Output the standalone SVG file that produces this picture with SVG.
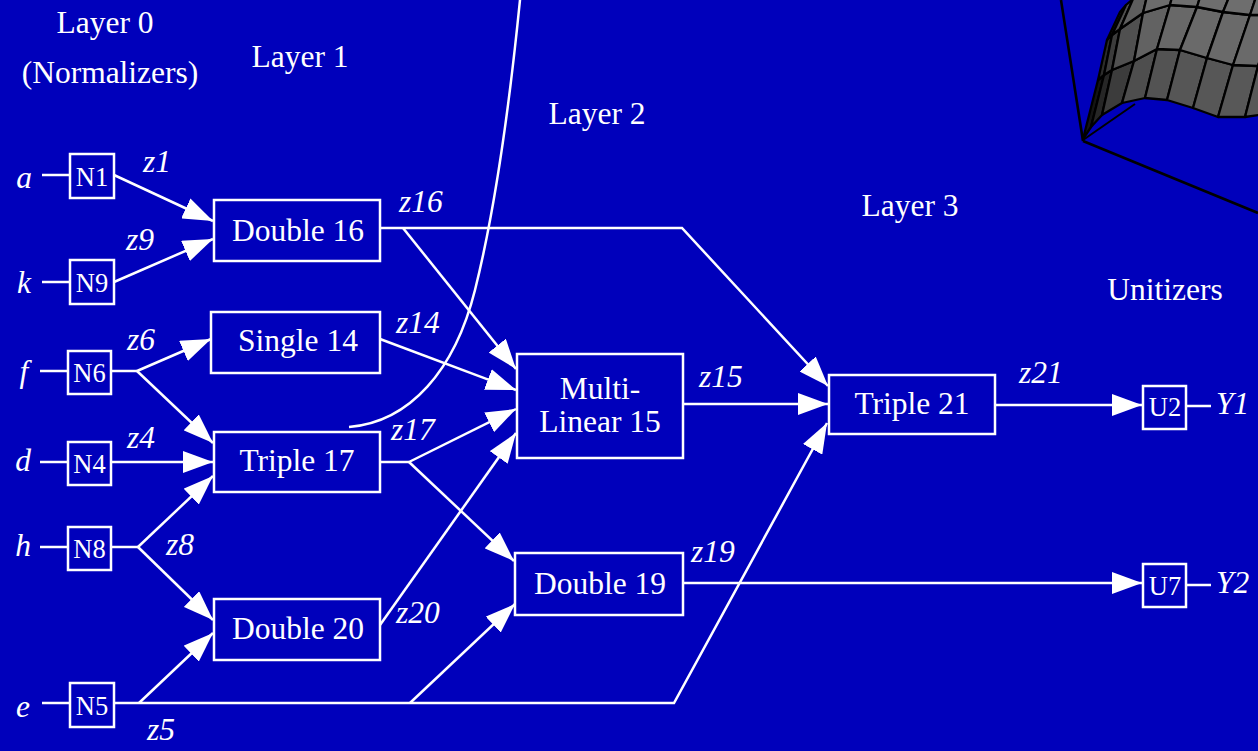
<svg xmlns="http://www.w3.org/2000/svg" width="1258" height="751" viewBox="0 0 1258 751">
<defs>
<marker id="ah" markerUnits="userSpaceOnUse" markerWidth="30" markerHeight="22" refX="30" refY="11" orient="auto" viewBox="0 0 30 22">
<path d="M0,0 L30,11 L0,22 z" fill="#fff"/>
</marker>
<style>
.t{font-family:"Liberation Serif","Times New Roman",serif;fill:#fff;font-size:31.5px}
.c{text-anchor:middle}
.i{font-style:italic;font-size:31.5px}
.n{font-size:26.5px}
.box{fill:#0000BB;stroke:#fff;stroke-width:2.5}
.ln{fill:none;stroke:#fff;stroke-width:2.5}
.ar{marker-end:url(#ah)}
.sf{stroke:#000;stroke-width:2.3;stroke-linejoin:round}
</style>
</defs>
<rect width="1258" height="751" fill="#0000BB"/>

<g id="surface">
<line x1="1061" y1="0" x2="1083" y2="141" stroke="#000" stroke-width="2.6"/>
<line x1="1083" y1="141" x2="1258" y2="213" stroke="#000" stroke-width="2.6"/>
<line x1="1083" y1="140" x2="1135" y2="104" stroke="#000" stroke-width="2"/>
<g class="sf">
<polygon points="1083,139 1091,127 1104,75 1098,80" fill="#141414"/>
<polygon points="1091,127 1102,115 1112,70 1104,75" fill="#262626"/>
<polygon points="1102,115 1122,103 1134,61 1112,70" fill="#3c3c3c"/>
<polygon points="1122,103 1145,98 1157,49 1134,61" fill="#4e4e4e"/>
<polygon points="1145,98 1167,100 1180,50 1157,49" fill="#535353"/>
<polygon points="1167,100 1193,108 1207,58 1180,50" fill="#565656"/>
<polygon points="1193,108 1218,117 1233,65 1207,58" fill="#575757"/>
<polygon points="1218,117 1245,117 1258,66 1233,65" fill="#585858"/>
<polygon points="1245,117 1272,113 1285,63 1258,66" fill="#585858"/>
<polygon points="1098,80 1104,75 1112,35 1107,40" fill="#2c2c2c"/>
<polygon points="1104,75 1112,70 1120,29 1112,35" fill="#3c3c3c"/>
<polygon points="1112,70 1134,61 1143,13 1120,29" fill="#505050"/>
<polygon points="1134,61 1157,49 1170,5 1143,13" fill="#626262"/>
<polygon points="1157,49 1180,50 1197,7 1170,5" fill="#686868"/>
<polygon points="1180,50 1207,58 1223,12 1197,7" fill="#6a6a6a"/>
<polygon points="1207,58 1233,65 1250,15 1223,12" fill="#6a6a6a"/>
<polygon points="1233,65 1258,66 1275,15 1250,15" fill="#6a6a6a"/>
<polygon points="1258,66 1285,63 1300,13 1275,15" fill="#6a6a6a"/>
<polygon points="1107,40 1112,35 1126,5 1120,12" fill="#404040"/>
<polygon points="1112,35 1120,29 1133,-1 1126,5" fill="#505050"/>
<polygon points="1120,29 1143,13 1152,-25 1133,-1" fill="#5e5e5e"/>
<polygon points="1143,13 1170,5 1180,-35 1152,-25" fill="#6c6c6c"/>
<polygon points="1170,5 1197,7 1210,-35 1180,-35" fill="#6e6e6e"/>
<polygon points="1197,7 1223,12 1240,-30 1210,-35" fill="#6e6e6e"/>
<polygon points="1223,12 1250,15 1265,-30 1240,-30" fill="#6e6e6e"/>
<polygon points="1250,15 1275,15 1290,-30 1265,-30" fill="#6e6e6e"/>
</g>
</g>

<path id="curve" class="ln" d="M349,427 C410,422 455,370 475,290 C495,210 510,100 520,0"/>

<g id="labels" class="t c">
<text x="105" y="33">Layer 0</text>
<text x="110" y="83">(Normalizers)</text>
<text x="300" y="67">Layer 1</text>
<text x="597" y="124">Layer 2</text>
<text x="910" y="216">Layer 3</text>
<text x="1165" y="300">Unitizers</text>
</g>

<g id="connectors">
<path class="ln" d="M42,175 H70 M42,282 H70 M40,371 H68 M40,462 H68 M40,547 H68 M42,703 H70"/>
<path class="ln ar" d="M114,175 L213,221"/>
<path class="ln ar" d="M114,282 L213,239"/>
<path class="ln" d="M111,371 H137"/>
<path class="ln ar" d="M137,371 L211,339"/>
<path class="ln ar" d="M137,371 L213,443"/>
<path class="ln ar" d="M111,462 H213"/>
<path class="ln" d="M111,547 H138"/>
<path class="ln ar" d="M138,547 L213,476"/>
<path class="ln ar" d="M138,547 L213,620"/>
<path class="ln ar" d="M114,703 H674 L827,423"/>
<path class="ln ar" d="M139,703 L213,633"/>
<path class="ln ar" d="M410,703 L515,604"/>
<path class="ln ar" d="M380,228 H682 L828,386"/>
<path class="ln ar" d="M403,228 L516,369"/>
<path class="ln ar" d="M380,339 L516,390"/>
<path class="ln" d="M380,462 H409"/>
<path class="ln ar" d="M409,462 L516,409"/>
<path class="ln ar" d="M409,462 L514,561"/>
<path class="ln ar" d="M380,625 L516,433"/>
<path class="ln ar" d="M683,404 H828"/>
<path class="ln ar" d="M995,405 H1142"/>
<path class="ln ar" d="M683,583 H1142"/>
<path class="ln" d="M1186,406 H1211 M1186,585 H1211"/>
</g>

<g id="edge-labels" class="t i">
<text x="143" y="172">z1</text>
<text x="126" y="250">z9</text>
<text x="127" y="350">z6</text>
<text x="127" y="448">z4</text>
<text x="166" y="555">z8</text>
<text x="147" y="740">z5</text>
<text x="399" y="212">z16</text>
<text x="396" y="333">z14</text>
<text x="391" y="440">z17</text>
<text x="396" y="623">z20</text>
<text x="699" y="387">z15</text>
<text x="691" y="562">z19</text>
<text x="1019" y="383">z21</text>
</g>

<g id="inputs" class="t i c">
<text x="24" y="188">a</text>
<text x="24" y="293">k</text>
<text x="24" y="382">f</text>
<text x="23" y="471">d</text>
<text x="23" y="556">h</text>
<text x="23" y="717">e</text>
</g>
<g id="outputs" class="t i">
<text x="1216" y="414">Y1</text>
<text x="1216" y="593">Y2</text>
</g>

<g id="N1"><rect class="box" x="70" y="154" width="44" height="44"/><text class="t c n" x="92" y="186">N1</text></g>
<g id="N9"><rect class="box" x="70" y="260" width="44" height="44"/><text class="t c n" x="92" y="292">N9</text></g>
<g id="N6"><rect class="box" x="68" y="351" width="43" height="43"/><text class="t c n" x="89.5" y="382">N6</text></g>
<g id="N4"><rect class="box" x="68" y="442" width="43" height="43"/><text class="t c n" x="89.5" y="473">N4</text></g>
<g id="N8"><rect class="box" x="68" y="527" width="43" height="43"/><text class="t c n" x="89.5" y="558">N8</text></g>
<g id="N5"><rect class="box" x="70" y="683" width="44" height="44"/><text class="t c n" x="92" y="715">N5</text></g>

<g id="Double16"><rect class="box" x="214" y="200" width="166" height="61"/><text class="t c" x="298" y="241">Double 16</text></g>
<g id="Single14"><rect class="box" x="211" y="312" width="169" height="61"/><text class="t c" x="298" y="351">Single 14</text></g>
<g id="Triple17"><rect class="box" x="214" y="432" width="166" height="60"/><text class="t c" x="297" y="471">Triple 17</text></g>
<g id="Double20"><rect class="box" x="214" y="599" width="166" height="61"/><text class="t c" x="298" y="639">Double 20</text></g>
<g id="MultiLinear15"><rect class="box" x="517" y="354" width="166" height="104"/><text class="t c" x="600" y="399">Multi-</text><text class="t c" x="600" y="432">Linear 15</text></g>
<g id="Double19"><rect class="box" x="515" y="553" width="168" height="62"/><text class="t c" x="600" y="594">Double 19</text></g>
<g id="Triple21"><rect class="box" x="829" y="375" width="166" height="59"/><text class="t c" x="912" y="414">Triple 21</text></g>
<g id="U2"><rect class="box" x="1143" y="386" width="43" height="43"/><text class="t c n" x="1165" y="416">U2</text></g>
<g id="U7"><rect class="box" x="1143" y="564" width="43" height="43"/><text class="t c n" x="1165" y="595">U7</text></g>
</svg>
